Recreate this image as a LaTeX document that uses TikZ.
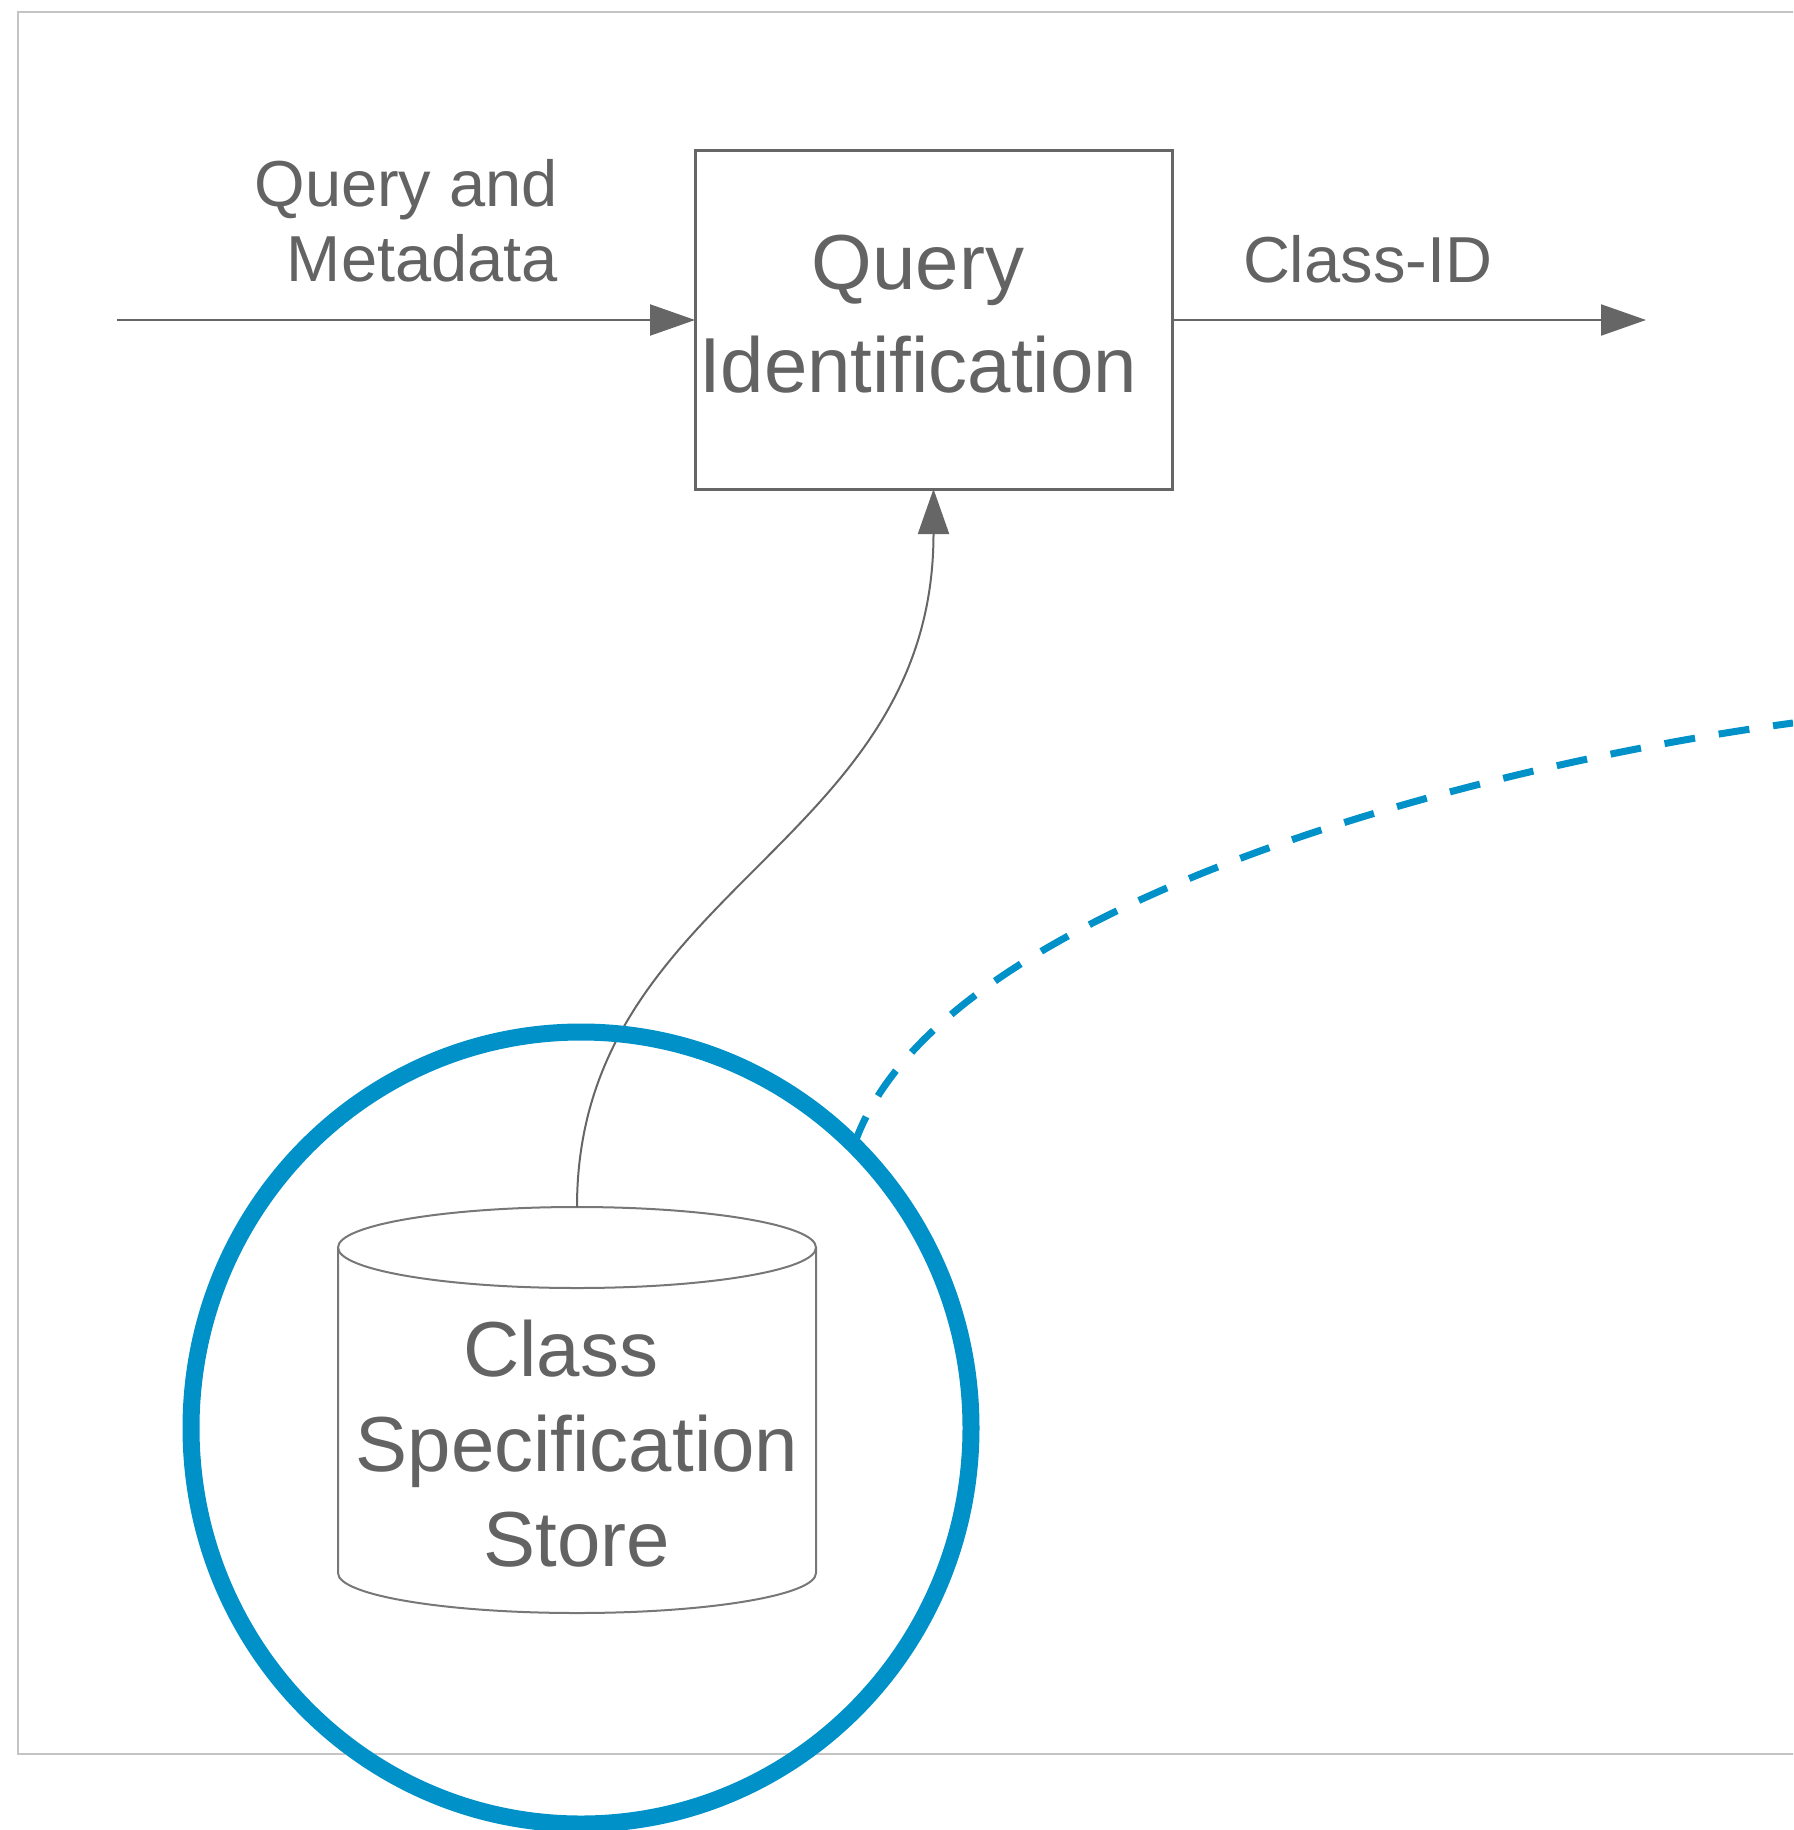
\documentclass[tikz,border=0pt]{standalone}
\usepackage{fontspec}
\setmainfont{Liberation Sans}
\usetikzlibrary{arrows.meta,shapes.geometric}
\definecolor{ink}{HTML}{636363}
\definecolor{edge}{HTML}{666666}
\definecolor{cylline}{HTML}{777777}
\definecolor{frameline}{HTML}{C4C4C4}
\definecolor{zoomblue}{RGB}{0,145,201}

\begin{document}
\begin{tikzpicture}[x=1pt,y=-1pt,
  every node/.style={inner sep=0pt, outer sep=0pt, text=ink},
  flow/.style={draw=edge, line width=2.2pt, -{Triangle[length=45pt,width=31pt]}},
  procbox/.style={draw=edge, line width=3pt, rectangle, minimum width=477pt, minimum height=338pt},
  storeshape/.style={minimum width=478pt, minimum height=406pt},
  storeline/.style={draw=cylline, line width=2pt},
  bigtext/.style={font=\fontsize{78}{103}\selectfont, align=center},
  smalltext/.style={font=\fontsize{65}{75.5}\selectfont},
  focusring/.style={draw=zoomblue, line width=17pt, ellipse, minimum width=780pt, minimum height=792pt},
  focuslink/.style={draw=zoomblue, line width=7pt, dash pattern=on 31pt off 24pt}
]
\useasboundingbox (0,0) rectangle (1793,1830);
\clip (0,0) rectangle (1793,1830);

% page frame
\draw[frameline, line width=1.5pt] (18,12) rectangle (1880,1754);

% process box
\node[procbox] (qid) at (933.5,320) {};
\node[bigtext, anchor=south] (qidtext) at (918,393) {Query\\Identification};

% input and output flows
\coordinate (src) at (117,320);
\coordinate (sink) at (1646,320);
\draw[flow] (src) -- (qid.west);
\draw[flow] (qid.east) -- (sink);
\node[smalltext, align=right, anchor=south east] (inlabel) at (558,282.5) {Query and\\Metadata};
\node[smalltext, anchor=base west] (outlabel) at (1243,282.5) {Class-ID};

% data store
\node[storeshape] (cyl) at (577,1410) {};
\draw[storeline] (cyl.north) ++(0,40.5) ellipse [x radius=239pt, y radius=40.5pt];
\draw[storeline] ([yshift=-40.5pt]cyl.north west) -- ([yshift=40pt]cyl.south west)
  arc[start angle=180, end angle=360, x radius=239pt, y radius=40pt]
  -- ([yshift=-40.5pt]cyl.north east);
\node[font=\fontsize{78}{95}\selectfont, align=center, anchor=south] (cyltext) at (577,1567)
  {\makebox[228pt][l]{Class}\\Specification\\Store};

% store feeds the identification step
\draw[flow, line width=2pt] (cyl.north) .. controls +(0,-318) and +(0,359) .. (qid.south);

% highlight ring and its leader
\node[focusring] (focus) at (581,1428) {};
\coordinate (dashend) at (1793,723);
\draw[focuslink] (focus.46) .. controls +(83,-244) and +(-300,40) .. (dashend);
\end{tikzpicture}
\end{document}
